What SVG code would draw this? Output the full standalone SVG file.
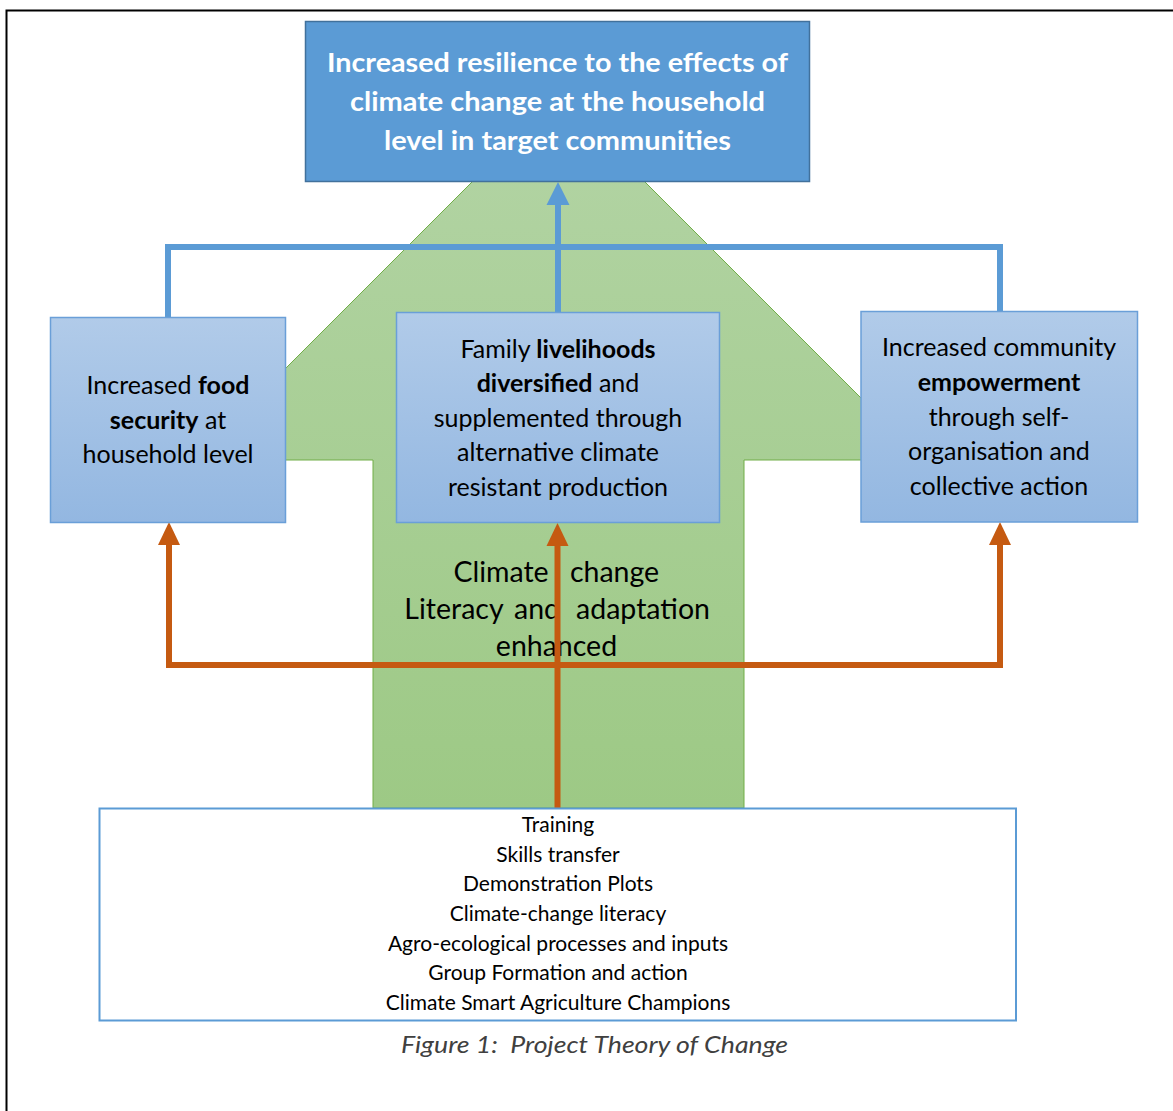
<svg xmlns="http://www.w3.org/2000/svg" width="1173" height="1111" viewBox="0 0 1173 1111">
<style>
text{font-family:Lato,"Liberation Sans",sans-serif;text-anchor:middle;fill:#000}
.top{font-size:26px;font-weight:bold;fill:#fff}
.box{font-size:25px}
.b{font-weight:bold}
.mid{font-size:28.5px}
.list{font-size:21px}
.cap{font-size:24px;font-style:italic;fill:#404040}
.blue{stroke:#5B9BD5;stroke-width:6;fill:none}
.orange{stroke:#C55A11;stroke-width:6;fill:none}
.node{fill:url(#gb);stroke:#6A9FD8;stroke-width:1.5}
</style>
<defs>
<linearGradient id="gb" x1="0" y1="0" x2="0" y2="1">
<stop offset="0" stop-color="#B1CBE9"/>
<stop offset="1" stop-color="#93B7E1"/>
</linearGradient>
<linearGradient id="gg" gradientUnits="userSpaceOnUse" x1="0" y1="96" x2="0" y2="808">
<stop offset="0" stop-color="#B3D4A5"/>
<stop offset="1" stop-color="#9DC985"/>
</linearGradient>
</defs>
<rect width="1173" height="1111" fill="#fff"/>
<path d="M6.5,1111 V10.5 H1173" fill="none" stroke="#000" stroke-width="2"/>

<g id="green-arrow">
<polygon points="558.5,95.5 923,460 744,460 744,808 373,808 373,460 194,460" fill="url(#gg)" stroke="#70AD47" stroke-width="1"/>
<text class="mid" y="582"><tspan x="501">Climate</tspan><tspan x="614.5">change</tspan></text>
<text class="mid" y="619"><tspan x="454">Literacy</tspan><tspan x="537">and</tspan><tspan x="643">adaptation</tspan></text>
<text class="mid" x="556.5" y="656">enhanced</text>
</g>

<g id="connectors">
<polyline class="blue" points="168,317 168,247 1000,247 1000,312"/>
<line class="blue" x1="558" y1="313" x2="558" y2="200"/>
<polygon points="558,182 569.5,205 546.5,205" fill="#5B9BD5"/>
<polyline class="orange" points="169,544 169,665 1000,665 1000,544"/>
<line class="orange" x1="557.5" y1="808" x2="557.5" y2="544"/>
<polygon points="169,522 180,545 158,545" fill="#C55A11"/>
<polygon points="557.5,523 568.5,546 546.5,546" fill="#C55A11"/>
<polygon points="1000,522 1011,545 989,545" fill="#C55A11"/>
</g>

<g id="goal">
<rect x="305.5" y="21.5" width="504" height="160" fill="#5B9BD5" stroke="#41719C" stroke-width="1.5"/>
<text class="top" x="557.5" y="72" textLength="461" lengthAdjust="spacingAndGlyphs">Increased resilience to the effects of</text>
<text class="top" x="557.5" y="111" textLength="415" lengthAdjust="spacingAndGlyphs">climate change at the household</text>
<text class="top" x="557.5" y="150" textLength="347" lengthAdjust="spacingAndGlyphs">level in target communities</text>
</g>

<g id="food-security">
<rect class="node" x="50.5" y="317.5" width="235" height="205"/>
<text class="box" x="168" y="394">Increased <tspan class="b">food</tspan></text>
<text class="box" x="168" y="429"><tspan class="b">security</tspan> at</text>
<text class="box" x="168" y="463">household level</text>
</g>

<g id="livelihoods">
<rect class="node" x="396.5" y="312.5" width="323" height="210"/>
<text class="box" x="558" y="358">Family <tspan class="b">livelihoods</tspan></text>
<text class="box" x="558" y="392"><tspan class="b">diversified</tspan> and</text>
<text class="box" x="558" y="427">supplemented through</text>
<text class="box" x="558" y="461">alternative climate</text>
<text class="box" x="558" y="496">resistant production</text>
</g>

<g id="empowerment">
<rect class="node" x="861" y="311.5" width="276.5" height="210.5"/>
<text class="box" x="999" y="356">Increased community</text>
<text class="box" x="999" y="391"><tspan class="b">empowerment</tspan></text>
<text class="box" x="999" y="426">through self-</text>
<text class="box" x="999" y="460">organisation and</text>
<text class="box" x="999" y="495">collective action</text>
</g>

<g id="activities">
<rect x="99.5" y="808.5" width="916.5" height="212" fill="#fff" stroke="#5B9BD5" stroke-width="2"/>
<text class="list" x="558" y="832">Training</text>
<text class="list" x="558" y="862">Skills transfer</text>
<text class="list" x="558" y="891">Demonstration Plots</text>
<text class="list" x="558" y="921">Climate-change literacy</text>
<text class="list" x="558" y="951">Agro-ecological processes and inputs</text>
<text class="list" x="558" y="980">Group Formation and action</text>
<text class="list" x="558" y="1010">Climate Smart Agriculture Champions</text>
</g>

<text class="cap" x="594.5" y="1053" xml:space="preserve" textLength="387" lengthAdjust="spacingAndGlyphs">Figure 1:  Project Theory of Change</text>
</svg>
